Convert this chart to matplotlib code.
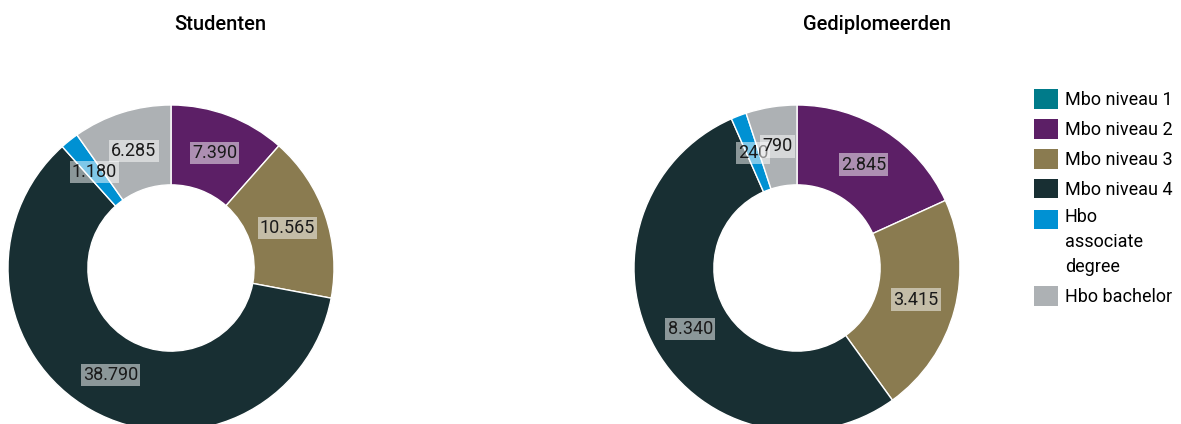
import numpy as np
import matplotlib
matplotlib.use("Agg")
import matplotlib.pyplot as plt
from matplotlib.patches import Patch, Rectangle
from matplotlib.legend_handler import HandlerPatch

plt.rcParams['font.family'] = ['Roboto', 'DejaVu Sans']

categories = ['Mbo niveau 1', 'Mbo niveau 2', 'Mbo niveau 3', 'Mbo niveau 4',
              'Hbo\nassociate\ndegree', 'Hbo bachelor']
studenten = [0, 7390, 10565, 38790, 1180, 6285]
gediplomeerden = [0, 2845, 3415, 8340, 240, 790]
titles = ['Studenten', 'Gediplomeerden']
colors = ['#007b8a', '#5c1f66', '#8a7b50', '#182f33', '#0091d3', '#adb1b4']

W, H = 1181, 424
fig = plt.figure(figsize=(W / 100, H / 100), dpi=100)


def fmt(v):
    return '{:,}'.format(v).replace(',', '.')


def donut(cx, cy, r, values):
    # square axes in pixel coords, centered on (cx, cy) from top-left
    ax = fig.add_axes([(cx - r) / W, (H - cy - r) / H, 2 * r / W, 2 * r / H])
    wedges, _ = ax.pie(values, colors=colors, startangle=90, counterclock=False,
                       radius=1.0, wedgeprops=dict(width=0.49, edgecolor='white', linewidth=1))
    for w, v in zip(wedges, values):
        if v == 0:
            continue
        ang = np.deg2rad((w.theta1 + w.theta2) / 2)
        ax.text(0.755 * np.cos(ang), 0.755 * np.sin(ang), fmt(v), ha='center', va='center',
                fontsize=13, color='#1a1a1a',
                bbox=dict(boxstyle='square,pad=0.12', facecolor='white', edgecolor='none', alpha=0.5))
    ax.set_xlim(-1, 1)
    ax.set_ylim(-1, 1)
    ax.set_aspect('equal')
    ax.axis('off')
    return ax


donut(171, 268, 163, studenten)
donut(797, 268, 163, gediplomeerden)

fig.text(220 / W, 1 - 25 / H, titles[0], ha='center', va='center', fontsize=14.5, fontweight='medium')
fig.text(877 / W, 1 - 25 / H, titles[1], ha='center', va='center', fontsize=14.5, fontweight='medium')


def top_square(legend, orig_handle, xdescent, ydescent, width, height, fontsize):
    # put the square next to the first line of a wrapped label
    return Rectangle((-xdescent, -ydescent + 17.3), width, height)


handles = [Patch(facecolor=c, edgecolor='none') for c in colors]
leg = fig.legend(handles, categories, loc='upper left', bbox_to_anchor=(1027 / W, 1 - 82 / H),
                 frameon=False, fontsize=13, handlelength=1.3, handleheight=1.3,
                 handletextpad=0.4, labelspacing=0.55, borderaxespad=0,
                 handler_map={handles[4]: HandlerPatch(patch_func=top_square)})
for t in leg.get_texts():
    t.set_linespacing(1.5)

fig.savefig('out.png', dpi=100)
